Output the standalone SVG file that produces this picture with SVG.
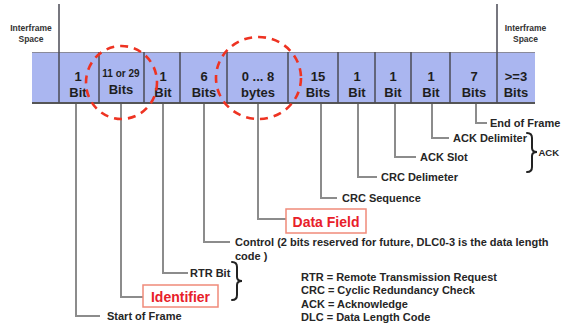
<svg xmlns="http://www.w3.org/2000/svg" width="562" height="326" viewBox="0 0 562 326">
  <style>
    .cell { fill: #aab6f0; }
    .div { stroke: #4a4a55; stroke-width: 1.5; fill: none; }
    .big { font-family: "Liberation Sans", Arial, sans-serif; font-weight: bold; font-size: 13px; fill: #1e1e1e; text-anchor: middle; }
    .mid { font-family: "Liberation Sans", Arial, sans-serif; font-weight: bold; font-size: 10px; fill: #1e1e1e; text-anchor: middle; }
    .ifs { font-family: "Liberation Sans", Arial, sans-serif; font-weight: bold; font-size: 8.5px; fill: #333; text-anchor: middle; }
    .lbl { font-family: "Liberation Sans", Arial, sans-serif; font-weight: bold; font-size: 11px; fill: #262626; }
    .red { font-family: "Liberation Sans", Arial, sans-serif; font-weight: bold; font-size: 14px; fill: #e8202a; text-anchor: middle; }
    .rbox { fill: #fff; stroke: #f08a7a; stroke-width: 1.5; }
    .conn { stroke: #8c8c8c; stroke-width: 2; fill: none; }
    .brace { stroke: #222; stroke-width: 2; fill: none; stroke-linecap: round; }
    .ring { fill: none; stroke: #ee3322; stroke-width: 2.6; stroke-dasharray: 8 6; }
  </style>

  <!-- interframe space markers -->
  <g id="ifs-left">
    <line x1="59" y1="4" x2="59" y2="52" class="div"/>
    <text x="31" y="30.5" class="ifs">Interframe</text>
    <text x="31" y="42" class="ifs">Space</text>
  </g>
  <g id="ifs-right">
    <line x1="497" y1="4" x2="497" y2="52" class="div"/>
    <text x="525.5" y="30.5" class="ifs">Interframe</text>
    <text x="525.5" y="42" class="ifs">Space</text>
  </g>

  <!-- frame bar -->
  <g id="bar">
    <rect x="32" y="52" width="503" height="51" class="cell"/>
    <line x1="32" y1="52.5" x2="535" y2="52.5" stroke="#8a8a9a" stroke-width="1.2"/>
    <line x1="32" y1="103" x2="535" y2="103" stroke="#555" stroke-width="2"/>
  </g>
  <g id="cell-sof">
    <line x1="59" y1="52" x2="59" y2="103" class="div"/>
    <text x="78" y="80.5" class="big">1</text>
    <text x="78" y="96.5" class="big">Bit</text>
  </g>
  <g id="cell-id">
    <line x1="99" y1="52" x2="99" y2="103" class="div"/>
    <text x="121" y="77" class="mid">11 or 29</text>
    <text x="121" y="94" class="big">Bits</text>
  </g>
  <g id="cell-rtr">
    <line x1="144" y1="52" x2="144" y2="103" class="div"/>
    <text x="163" y="80.5" class="big">1</text>
    <text x="163" y="96.5" class="big">Bit</text>
  </g>
  <g id="cell-ctrl">
    <line x1="180" y1="52" x2="180" y2="103" class="div"/>
    <text x="204" y="80.5" class="big">6</text>
    <text x="204" y="96.5" class="big">Bits</text>
  </g>
  <g id="cell-data">
    <line x1="227" y1="52" x2="227" y2="103" class="div"/>
    <text x="258" y="80.5" class="big">0 ... 8</text>
    <text x="258" y="96.5" class="big">bytes</text>
  </g>
  <g id="cell-crc">
    <line x1="288" y1="52" x2="288" y2="103" class="div"/>
    <text x="318" y="80.5" class="big">15</text>
    <text x="318" y="96.5" class="big">Bits</text>
  </g>
  <g id="cell-crcd">
    <line x1="338" y1="52" x2="338" y2="103" class="div"/>
    <text x="357" y="80.5" class="big">1</text>
    <text x="357" y="96.5" class="big">Bit</text>
  </g>
  <g id="cell-acks">
    <line x1="375" y1="52" x2="375" y2="103" class="div"/>
    <text x="393" y="80.5" class="big">1</text>
    <text x="393" y="96.5" class="big">Bit</text>
  </g>
  <g id="cell-ackd">
    <line x1="411" y1="52" x2="411" y2="103" class="div"/>
    <text x="431" y="80.5" class="big">1</text>
    <text x="431" y="96.5" class="big">Bit</text>
  </g>
  <g id="cell-eof">
    <line x1="450" y1="52" x2="450" y2="103" class="div"/>
    <text x="474" y="80.5" class="big">7</text>
    <text x="474" y="96.5" class="big">Bits</text>
  </g>
  <g id="cell-ifs-r">
    <line x1="497" y1="52" x2="497" y2="103" class="div"/>
    <text x="516" y="80.5" class="big">&gt;=3</text>
    <text x="516" y="96.5" class="big">Bits</text>
  </g>

  <!-- connectors -->
  <g id="connectors">
    <polyline points="76,104 76,316 100,316" class="conn"/>
    <polyline points="121,104 121,297 143,297" class="conn"/>
    <polyline points="163,104 163,273 188,273" class="conn"/>
    <polyline points="204,104 204,242 230,242" class="conn"/>
    <polyline points="258,104 258,219 286,219" class="conn"/>
    <polyline points="321,104 321,198 337,198" class="conn"/>
    <polyline points="358,104 358,177 377,177" class="conn"/>
    <polyline points="395,104 395,157 416,157" class="conn"/>
    <polyline points="432,104 432,138 449,138" class="conn"/>
    <polyline points="476,104 476,123 487,123" class="conn"/>
  </g>

  <!-- labels -->
  <g id="lbl-sof"><text x="107" y="320" class="lbl">Start of Frame</text></g>
  <g id="lbl-id">
    <rect x="143" y="285" width="75" height="22" class="rbox"/>
    <text x="180.5" y="301.5" class="red">Identifier</text>
  </g>
  <g id="lbl-rtr"><text x="190" y="277" class="lbl">RTR Bit</text></g>
  <g id="brace-rtr">
    <path d="M232,262 Q237,262 237,267 L237,277 Q237,281 242,281 Q237,281 237,285 L237,295 Q237,300 232,300" class="brace"/>
  </g>
  <g id="lbl-ctrl">
    <text x="235" y="246" class="lbl">Control (2 bits reserved for future, DLC0-3 is the data length</text>
    <text x="235" y="260" class="lbl">code )</text>
  </g>
  <g id="lbl-data">
    <rect x="286" y="209" width="80" height="24" class="rbox"/>
    <text x="326" y="226.5" class="red">Data Field</text>
  </g>
  <g id="lbl-crc"><text x="342" y="202" class="lbl">CRC Sequence</text></g>
  <g id="lbl-crcd"><text x="381" y="181" class="lbl">CRC Delimeter</text></g>
  <g id="lbl-acks"><text x="420" y="161" class="lbl">ACK Slot</text></g>
  <g id="lbl-ackd"><text x="453" y="142" class="lbl">ACK Delimiter</text></g>
  <g id="lbl-eof"><text x="490" y="127" class="lbl">End of Frame</text></g>
  <g id="brace-ack">
    <path d="M527,133 Q532,133 532,138 L532,148 Q532,152 537,152 Q532,152 532,156 L532,167 Q532,172 527,172" class="brace"/>
    <text x="538.5" y="156" class="lbl" style="font-size:9.5px">ACK</text>
  </g>

  <!-- legend -->
  <g id="legend">
    <text x="301" y="281" class="lbl">RTR = Remote Transmission Request</text>
    <text x="301" y="294" class="lbl">CRC = Cyclic Redundancy Check</text>
    <text x="301" y="307.5" class="lbl">ACK = Acknowledge</text>
    <text x="301" y="321" class="lbl">DLC = Data Length Code</text>
  </g>

  <!-- highlight rings -->
  <g id="rings">
    <ellipse cx="121.5" cy="82.5" rx="35.5" ry="36.5" class="ring"/>
    <ellipse cx="258.5" cy="78" rx="42.5" ry="41" class="ring"/>
  </g>
</svg>
